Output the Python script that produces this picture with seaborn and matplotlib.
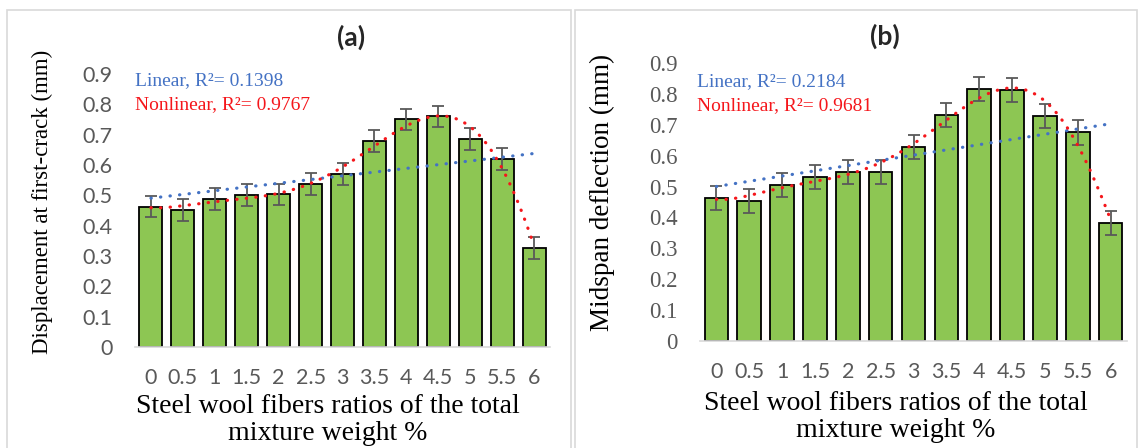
import numpy as np
import pandas as pd
import matplotlib
matplotlib.use("Agg")
import matplotlib.pyplot as plt
import seaborn as sns
from matplotlib.patches import Rectangle

# ---------------- data ----------------
ratios = ["0", "0.5", "1", "1.5", "2", "2.5", "3", "3.5", "4", "4.5", "5", "5.5", "6"]
disp_first_crack = [0.463, 0.453, 0.487, 0.500, 0.503, 0.537, 0.570, 0.679, 0.750, 0.760, 0.687, 0.621, 0.326]
disp_err = [0.036, 0.036, 0.036, 0.036, 0.036, 0.036, 0.036, 0.036, 0.036, 0.036, 0.036, 0.036, 0.036]
midspan_defl = [0.464, 0.454, 0.505, 0.531, 0.546, 0.548, 0.629, 0.731, 0.816, 0.812, 0.729, 0.675, 0.383]
midspan_err = [0.039, 0.039, 0.039, 0.039, 0.039, 0.039, 0.039, 0.039, 0.039, 0.039, 0.039, 0.039, 0.039]
r2_text_a = ["Linear, R²= 0.1398", "Nonlinear, R²= 0.9767"]
r2_text_b = ["Linear, R²= 0.2184", "Nonlinear, R²= 0.9681"]
yticks = [0, 0.1, 0.2, 0.3, 0.4, 0.5, 0.6, 0.7, 0.8, 0.9]
ytick_labels = ["0", "0.1", "0.2", "0.3", "0.4", "0.5", "0.6", "0.7", "0.8", "0.9"]

sns.set_theme(style="white")
plt.rcParams["font.family"] = ["Lato", "DejaVu Sans"]

W, H = 1139, 448
fig = plt.figure(figsize=(W / 100, H / 100), dpi=100)

def fx(px):
    return px / W

def fy(py):
    return 1 - py / H

GREEN = "#8DC653"
GRAY = "#595959"
BLUE = "#4472C4"
RED = "#F5161B"
SERIF = ["Liberation Serif", "DejaVu Serif"]

# panel frames
for x0, x1 in [(7, 571), (575, 1137)]:
    fig.patches.append(Rectangle((fx(x0), fy(H + 5)), fx(x1 - x0), (H + 5 - 10) / H,
                                 transform=fig.transFigure, fill=False,
                                 edgecolor="#D9D9D9", linewidth=1.2))


def panel(rect, values, errs, ylabel, r2txt, ytick_font, ytick_size, title, title_xy,
          xlabel_xy, ylabel_xy, ann_xy, ylab_size):
    ax = fig.add_axes(rect)
    df = pd.DataFrame({"ratio": ratios, "value": values})
    sns.barplot(data=df, x="ratio", y="value", order=ratios, color=GREEN,
                edgecolor="black", linewidth=1.3, width=0.72, saturation=1,
                errorbar=None, ax=ax)
    xs = np.arange(len(ratios))
    ax.errorbar(xs, values, yerr=errs, fmt="none", ecolor=GRAY, elinewidth=1.3,
                capsize=4.5, capthick=1.3, zorder=4, clip_on=False)
    # trendlines (Excel uses x = 1..n)
    xe = xs + 1
    lin = np.polyfit(xe, values, 1)
    poly = np.polyfit(xe, values, 6)
    xf = np.linspace(1, len(ratios), 300)
    dot = (0, (0.1, 2.9))
    ax.plot(xf - 1, np.polyval(lin, xf), color=BLUE, lw=2.3, linestyle=dot,
            dash_capstyle="round", zorder=5, clip_on=False)
    ax.plot(xf - 1, np.polyval(poly, xf), color=RED, lw=2.3, linestyle=dot,
            dash_capstyle="round", zorder=5, clip_on=False)

    ax.set_xlim(-0.5, len(ratios) - 0.5)
    ax.set_ylim(0, 0.9)
    ax.set_yticks(yticks)
    ax.set_yticklabels(ytick_labels, family=ytick_font, fontsize=ytick_size, color=GRAY)
    ax.set_xticks(xs)
    ax.set_xticklabels(ratios, fontsize=15.5, color=GRAY)
    ax.tick_params(axis="x", length=0, pad=15)
    ax.tick_params(axis="y", length=0, pad=16)
    ax.set_xlabel("")
    ax.set_ylabel("")
    for s in ["top", "right", "left"]:
        ax.spines[s].set_visible(False)
    ax.spines["bottom"].set_color("#D9D9D9")
    ax.spines["bottom"].set_linewidth(1.2)
    ax.grid(False)

    fig.text(fx(title_xy[0]), fy(title_xy[1]), title, ha="center", va="center",
             fontsize=19, fontweight="bold", color="#262626")
    fig.text(fx(xlabel_xy[0]), fy(xlabel_xy[1]),
             "Steel wool fibers ratios of the total\nmixture weight %",
             ha="center", va="top", multialignment="center", family=SERIF,
             fontsize=20, color="black", linespacing=1.12)
    fig.text(fx(ylabel_xy[0]), fy(ylabel_xy[1]), ylabel, rotation=90, ha="center",
             va="center", family=SERIF, fontsize=ylab_size, color="black")
    fig.text(fx(ann_xy[0]), fy(ann_xy[1]), r2txt[0], ha="left", va="center",
             family=SERIF, fontsize=14, color=BLUE)
    fig.text(fx(ann_xy[0]), fy(ann_xy[1] + 23.5), r2txt[1], ha="left", va="center",
             family=SERIF, fontsize=14, color=RED)
    return ax


panel([fx(135), fy(347), fx(550 - 135), (347 - 74) / H], disp_first_crack, disp_err,
      "Displacement at first-crack (mm)", r2_text_a, ["Lato", "DejaVu Sans"], 15.5,
      "(a)", (351, 37), (328, 394), (42, 202), (135, 81), 16.5)
panel([fx(700), fy(341), fx(1127 - 700), (341 - 63) / H], midspan_defl, midspan_err,
      "Midspan deflection (mm)", r2_text_b, SERIF, 16.5,
      "(b)", (885, 36), (896, 391), (602, 192), (697, 82), 19.5)

fig.savefig("out.png", dpi=100)
